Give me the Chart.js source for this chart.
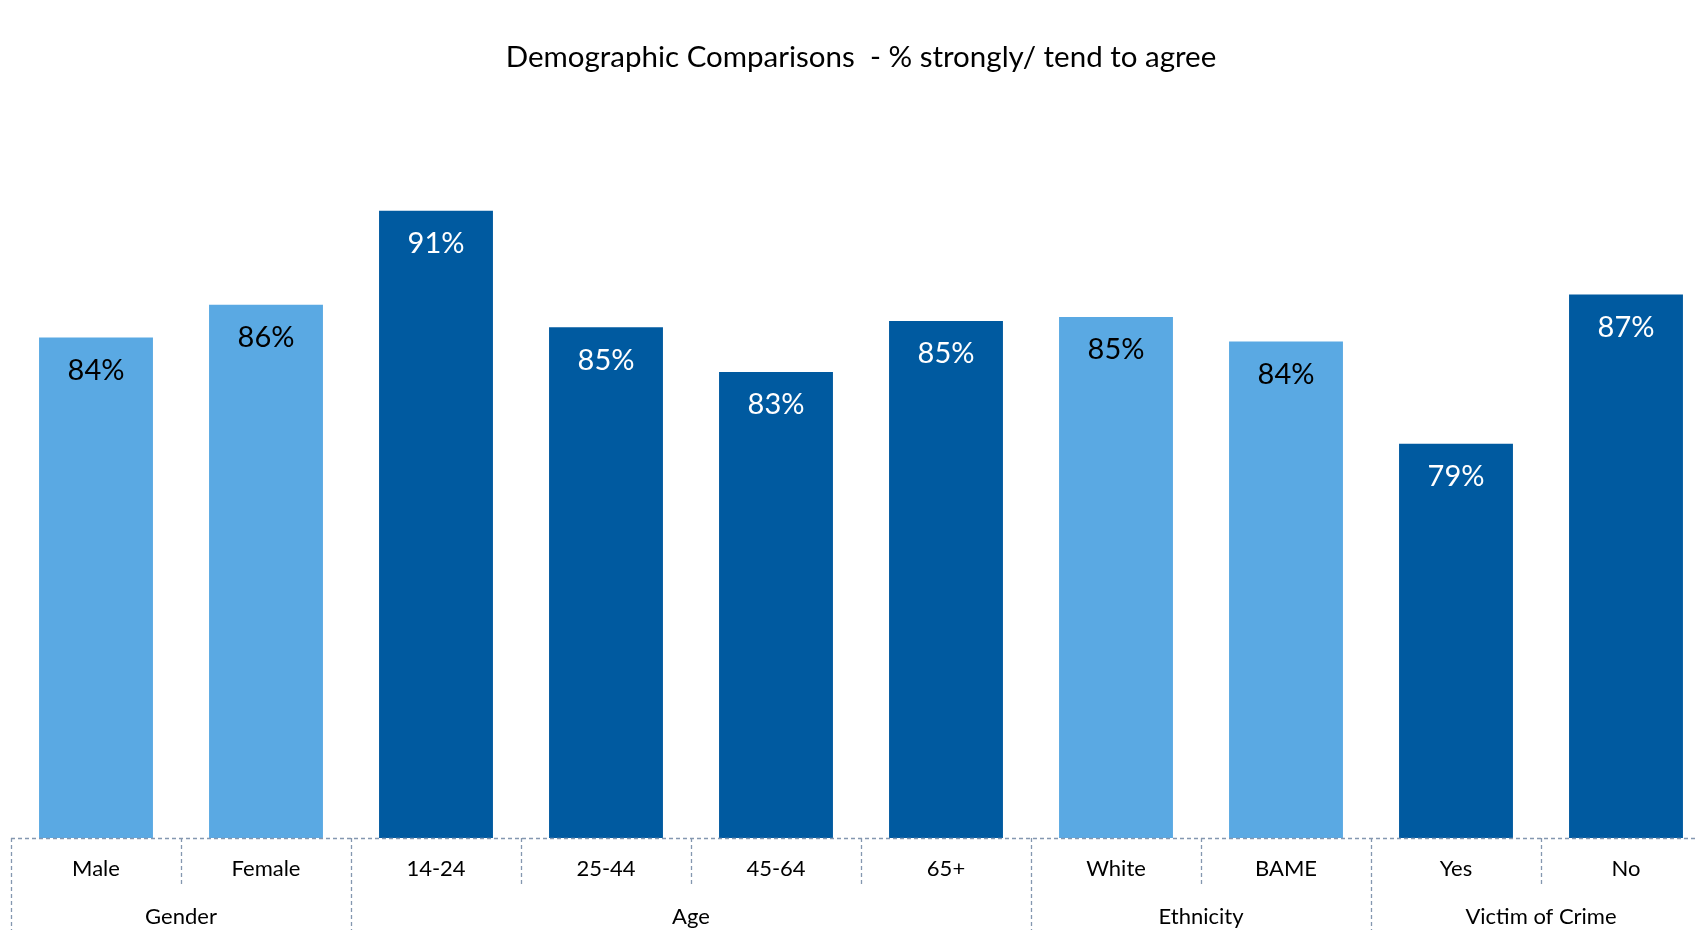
<!DOCTYPE html>
<html>
<head>
<meta charset="utf-8">
<script src="https://cdn.jsdelivr.net/npm/chart.js@4.4.1/dist/chart.umd.min.js"></script>
<style>
  html, body { margin: 0; padding: 0; background: #fff; overflow: hidden; }
  #wrap { position: relative; width: 1722px; height: 930px; }
</style>
</head>
<body>
<div id="wrap"><canvas id="demoChart"></canvas></div>
<script>
  // categories and groups (multi-level axis)
  const categories = ['Male', 'Female', '14-24', '25-44', '45-64', '65+', 'White', 'BAME', 'Yes', 'No'];
  const groups = ['Gender', 'Age', 'Ethnicity', 'Victim of Crime'];
  const groupSizes = [2, 4, 2, 2];

  // % strongly / tend to agree
  const agreeValues = [84.5, 86.1, 90.7, 85.0, 82.8, 85.3, 85.5, 84.3, 79.3, 86.6];
  const valueLabels = ['84%', '86%', '91%', '85%', '83%', '85%', '85%', '84%', '79%', '87%'];

  const LIGHT = '#5aa9e3';
  const DARK = '#005aa0';
  const groupColours = [LIGHT, DARK, LIGHT, DARK];
  const DASH = '#8497b0';
  const FONT = 'Lato, "Open Sans", sans-serif';

  // colour each bar by its group
  const barColours = [];
  groupSizes.forEach((n, g) => { for (let i = 0; i < n; i++) barColours.push(groupColours[g]); });

  // draws value labels, the dashed multi-level axis and both rows of labels
  const axisPlugin = {
    id: 'multiAxis',
    afterDatasetsDraw(chart) {
      const { ctx, chartArea, scales } = chart;
      const x = scales.x;
      const meta = chart.getDatasetMeta(0);
      const half = (x.getPixelForValue(1) - x.getPixelForValue(0)) / 2;
      const bottom = chartArea.bottom;

      ctx.save();
      // value labels inside bar tops
      ctx.font = '29px ' + FONT;
      ctx.textAlign = 'center';
      ctx.textBaseline = 'middle';
      meta.data.forEach((bar, i) => {
        ctx.fillStyle = barColours[i] === DARK ? '#ffffff' : '#000000';
        ctx.fillText(valueLabels[i], bar.x, bar.y + 33);
      });

      // dashed lines
      ctx.strokeStyle = DASH;
      ctx.lineWidth = 1.3;
      ctx.setLineDash([4, 3]);
      ctx.beginPath();
      ctx.moveTo(chartArea.left, bottom + 0.5);
      ctx.lineTo(chartArea.right, bottom + 0.5);
      ctx.stroke();

      const groupEdges = [0];
      groupSizes.forEach(n => groupEdges.push(groupEdges[groupEdges.length - 1] + n));
      for (let i = 0; i <= categories.length; i++) {
        const px = Math.round(x.getPixelForValue(i) - half) + 0.5;
        const full = groupEdges.includes(i);
        ctx.beginPath();
        ctx.moveTo(px, bottom);
        ctx.lineTo(px, full ? chart.height : bottom + 47);
        ctx.stroke();
      }

      // category labels
      ctx.fillStyle = '#000000';
      ctx.font = '22px ' + FONT;
      categories.forEach((c, i) => {
        ctx.fillText(c, x.getPixelForValue(i), bottom + 31);
      });

      // group labels
      groupSizes.forEach((n, g) => {
        const first = groupEdges[g];
        const cx = (x.getPixelForValue(first) + x.getPixelForValue(first + n - 1)) / 2;
        ctx.fillText(groups[g], cx, bottom + 79);
      });
      ctx.restore();
    }
  };

  new Chart(document.getElementById('demoChart'), {
    type: 'bar',
    data: {
      labels: categories,
      datasets: [{
        data: agreeValues,
        backgroundColor: barColours,
        borderWidth: 0,
        categoryPercentage: 1,
        barPercentage: 0.67
      }]
    },
    options: {
      responsive: true,
      maintainAspectRatio: false,
      animation: false,
      layout: { padding: { left: 11, right: 11, top: 0, bottom: 92 } },
      scales: {
        x: { display: false, grid: { display: false } },
        y: { display: false, min: 60, max: 96 }
      },
      plugins: {
        legend: { display: false },
        tooltip: { enabled: false },
        title: {
          display: true,
          text: 'Demographic Comparisons  - % strongly/ tend to agree',
          color: '#000000',
          font: { family: FONT, size: 29.5, weight: 'normal' },
          padding: { top: 39.5, bottom: 27.5 }
        }
      }
    },
    plugins: [axisPlugin]
  });
</script>
</body>
</html>
